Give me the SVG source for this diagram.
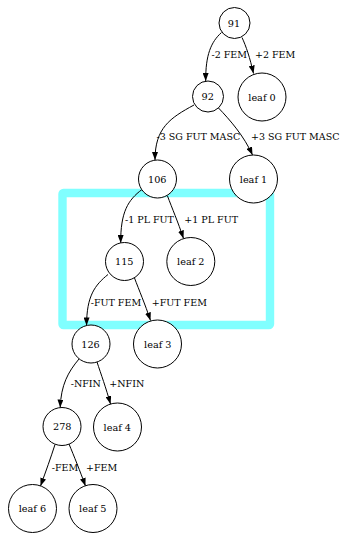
<svg xmlns="http://www.w3.org/2000/svg" width="340" height="533" viewBox="0 0 340 533">
  <style>
    .node circle { fill: #ffffff; stroke: #000000; stroke-width: 1; }
    .node text { font-family: "DejaVu Serif", "Liberation Serif", serif; font-size: 9.7px; fill: #000000; text-anchor: middle; }
    .edge path { fill: none; stroke: #000000; stroke-width: 1; marker-end: url(#arrow); }
    .elabel { font-family: "DejaVu Serif", "Liberation Serif", serif; font-size: 9.5px; fill: #000000; }
    .highlight { fill: none; stroke: #80ffff; stroke-width: 8.4; stroke-linejoin: round; }
  </style>
  <defs>
    <marker id="arrow" markerUnits="userSpaceOnUse" markerWidth="8.5" markerHeight="6" refX="8" refY="3" orient="auto">
      <path d="M0,0 L8,3 L0,6 Z" fill="#000000"/>
    </marker>
  </defs>

  <rect width="340" height="533" fill="#ffffff"/>

  <!-- highlight frame behind the middle subtree -->
  <rect class="highlight" x="62.5" y="193" width="207.5" height="132" rx="1"/>

  <!-- connectors -->
  <g id="edges">
    <g class="edge"><path d="M221.5,32.5 C211,42 205.5,55 205.7,81"/></g>
    <g class="edge"><path d="M242,37.5 C246,46 250,58 253.5,73.5"/></g>
    <g class="edge"><path d="M194,105 C170,118 155,128 155,160"/></g>
    <g class="edge"><path d="M218.5,108 C230,120 244,136 252.5,155"/></g>
    <g class="edge"><path d="M142,189.5 C128,200 120.5,212 120.7,243"/></g>
    <g class="edge"><path d="M167.5,196 C172,208 178,222 183.5,238.5"/></g>
    <g class="edge"><path d="M108,274.5 C95,285 86.5,296 86.6,325.5"/></g>
    <g class="edge"><path d="M134.5,278 C139,290 145,304 150.5,320.5"/></g>
    <g class="edge"><path d="M79,359 C68,372 61,385 60.2,407.5"/></g>
    <g class="edge"><path d="M97,362 C101,374 106,388 110.5,404"/></g>
    <g class="edge"><path d="M55,444.5 C51,457 46,471 40.5,486"/></g>
    <g class="edge"><path d="M69,444 C74,456 80,471 85.5,486"/></g>

    <text class="elabel" x="211.5" y="57.5">-2 FEM</text>
    <text class="elabel" x="255" y="57.5">+2 FEM</text>
    <text class="elabel" x="156.5" y="140">-3 SG FUT MASC</text>
    <text class="elabel" x="251" y="140">+3 SG FUT MASC</text>
    <text class="elabel" x="125" y="223.3">-1 PL FUT</text>
    <text class="elabel" x="184.3" y="223.3">+1 PL FUT</text>
    <text class="elabel" x="90.7" y="306">-FUT FEM</text>
    <text class="elabel" x="151.7" y="306">+FUT FEM</text>
    <text class="elabel" x="70.7" y="387.3">-NFIN</text>
    <text class="elabel" x="109.3" y="387.3">+NFIN</text>
    <text class="elabel" x="51.7" y="470.5">-FEM</text>
    <text class="elabel" x="86" y="470.5">+FEM</text>
  </g>

  <!-- nodes -->
  <g id="n91" class="node"><circle cx="234.5" cy="23" r="15.5"/><text x="234" y="26.5">91</text></g>
  <g id="n92" class="node"><circle cx="208" cy="96.5" r="15.5"/><text x="207.7" y="100">92</text></g>
  <g id="leaf0" class="node"><circle cx="262" cy="97" r="24"/><text x="262" y="100.5">leaf 0</text></g>
  <g id="n106" class="node"><circle cx="157.5" cy="179" r="19"/><text x="157.3" y="182.5">106</text></g>
  <g id="leaf1" class="node"><circle cx="253.5" cy="179" r="24"/><text x="253.5" y="182.5">leaf 1</text></g>
  <g id="n115" class="node"><circle cx="124.5" cy="261.5" r="19"/><text x="124.3" y="265">115</text></g>
  <g id="leaf2" class="node"><circle cx="190.8" cy="261.5" r="24"/><text x="190.8" y="265">leaf 2</text></g>
  <g id="n126" class="node"><circle cx="91" cy="344" r="19"/><text x="90.5" y="347.5">126</text></g>
  <g id="leaf3" class="node"><circle cx="157.5" cy="344" r="24"/><text x="157.8" y="347.5">leaf 3</text></g>
  <g id="n278" class="node"><circle cx="62" cy="426.5" r="19"/><text x="62.3" y="430">278</text></g>
  <g id="leaf4" class="node"><circle cx="117.5" cy="427" r="24"/><text x="117.3" y="430.5">leaf 4</text></g>
  <g id="leaf6" class="node"><circle cx="32.5" cy="508.5" r="24"/><text x="32.4" y="512">leaf 6</text></g>
  <g id="leaf5" class="node"><circle cx="93" cy="508.5" r="24"/><text x="92.8" y="512">leaf 5</text></g>
</svg>
